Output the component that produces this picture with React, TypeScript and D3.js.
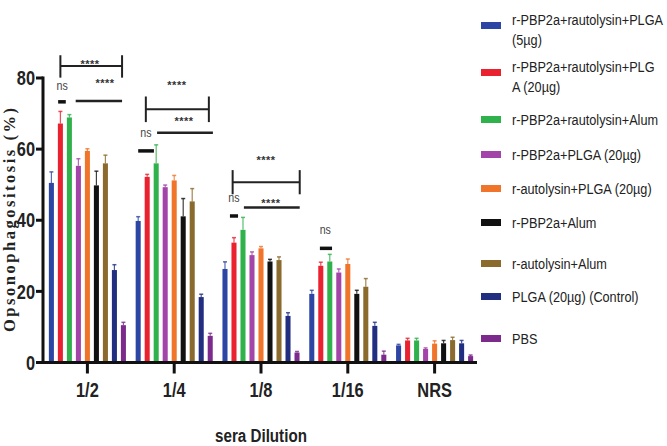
import * as d3 from "d3";
import type { ReactNode } from "react";

const groups = ["1/2", "1/4", "1/8", "1/16", "NRS"];

const seriesNames = [
  ["r-PBP2a+rautolysin+PLGA", "(5µg)"],
  ["r-PBP2a+rautolysin+PLG", "A (20µg)"],
  ["r-PBP2a+rautolysin+Alum"],
  ["r-PBP2a+PLGA (20µg)"],
  ["r-autolysin+PLGA (20µg)"],
  ["r-PBP2a+Alum"],
  ["r-autolysin+Alum"],
  ["PLGA (20µg) (Control)"],
  ["PBS"],
];

const colors = [
  "#2d45a3",
  "#ea2230",
  "#2fb24b",
  "#a344a8",
  "#f0742a",
  "#111111",
  "#8b6a2d",
  "#222f80",
  "#7c2b8c",
];

// mean values per group (rows = groups, cols = series)
const means = [
  [50.5, 67.2, 68.9, 55.3, 59.5, 49.8, 56, 26, 10.5],
  [39.8, 52.2, 56, 49.3, 51.2, 41.1, 45.3, 18.4, 7.5],
  [26.3, 33.7, 37.3, 30.2, 32.1, 28.4, 28.8, 13.1, 2.8],
  [19.3, 27.2, 28.4, 25.3, 27.7, 19.3, 21.3, 10.3, 2.2],
  [4.8, 6.2, 6.2, 3.8, 5.3, 5.4, 6.3, 5.4, 1.8],
];

const errors = [
  [3.1, 3.4, 0.8, 2, 0.6, 4, 2.3, 1.5, 0.8],
  [1.2, 0.7, 5.2, 0.6, 1.4, 5, 3.6, 0.8, 0.7],
  [2, 1.4, 3.5, 0.9, 0.5, 0.6, 0.9, 0.9, 0.3],
  [1, 1, 2, 1, 1.4, 1, 2.3, 1, 1],
  [0.3, 0.6, 0.6, 0.3, 0.8, 0.8, 0.8, 0.8, 0.3],
];

const yTicks = [0, 20, 40, 60, 80];

// significance marks: group, series index span, value level
const brackets = [
  { g: 0, i0: 1, i1: 7.85, v: 83.4, up: 3, down: 3.3 },
  { g: 1, i0: 0.85, i1: 7.85, v: 71.2, up: 3.6, down: 3.6 },
  { g: 2, i0: 0.85, i1: 8.3, v: 50.7, up: 3.4, down: 3.4 },
];
const stars = [
  { g: 0, i: 4.3, v: 84.6 },
  { g: 0, i: 5.95, v: 79.2 },
  { g: 1, i: 4.3, v: 78.6 },
  { g: 1, i: 5.1, v: 68.4 },
  { g: 2, i: 4.55, v: 57.5 },
  { g: 2, i: 5.1, v: 45.3 },
];
const nsLabels = [
  { g: 0, i: 1.2, v: 78 },
  { g: 1, i: 0.85, v: 64.8 },
  { g: 2, i: 1.0, v: 46.5 },
  { g: 3, i: 1.5, v: 37.4 },
];
const shortBars = [
  { g: 0, i0: 0.75, i1: 1.6, v: 73.3 },
  { g: 1, i0: 0, i1: 1.75, v: 59.5 },
  { g: 2, i0: 0.55, i1: 1.45, v: 41.2 },
  { g: 3, i0: 0.9, i1: 2.25, v: 32.1 },
];
const longLines = [
  { g: 0, i0: 2.7, i1: 7.85, v: 73.5 },
  { g: 1, i0: 2.1, i1: 8.3, v: 64.6 },
  { g: 2, i0: 2.1, i1: 8.3, v: 43.6 },
];

const W = 667;
const H = 446;
const sans = "'Liberation Sans', Arial, sans-serif";

// no narrow font installed, so squeeze Liberation Sans horizontally
function Narrow({
  x,
  y,
  anchor = "start",
  size,
  bold = false,
  fill = "#222",
  children,
}: {
  x: number;
  y: number;
  anchor?: "start" | "middle" | "end";
  size: number;
  bold?: boolean;
  fill?: string;
  children: ReactNode;
}) {
  return (
    <g transform={`translate(${x},${y}) scale(0.82,1)`}>
      <text
        dy="0.36em"
        textAnchor={anchor}
        fontFamily={sans}
        fontWeight={bold ? "bold" : "normal"}
        fontSize={size}
        fill={fill}
      >
        {children}
      </text>
    </g>
  );
}

export default function App() {
  const y = d3.scaleLinear([0, 80], [362.5, 78]);
  const x0 = d3.scaleBand(groups, [44, 478]);
  const idx = d3.range(seriesNames.length).map(String);
  const x1 = d3
    .scaleBand(idx, [0, x0.bandwidth()])
    .paddingInner(0.44)
    .paddingOuter(0.54);
  const bw = x1.bandwidth();
  const xAt = (g: number, i: number) =>
    (x0(groups[g]) ?? 0) + (x1("0") ?? 0) + bw / 2 + i * x1.step();

  const legendRows = [22, 69, 116, 151, 185, 219, 260, 293, 335];

  return (
    <svg
      width={W}
      height={H}
      viewBox={`0 0 ${W} ${H}`}
      style={{ position: "absolute", left: 0, top: 0, background: "#fff" }}
    >
      {/* bars */}
      {means.map((row, g) =>
        row.map((v, s) => {
          const xb = (x0(groups[g]) ?? 0) + (x1(String(s)) ?? 0);
          const cx = xb + bw / 2;
          const top = y(v + errors[g][s]);
          return (
            <g key={`${g}-${s}`}>
              <line x1={cx} x2={cx} y1={y(v)} y2={top} stroke={colors[s]} strokeWidth={1.2} opacity={0.8} />
              <line x1={cx - 2} x2={cx + 2} y1={top} y2={top} stroke={colors[s]} strokeWidth={1.5} opacity={0.8} />
              <rect x={xb} y={y(v)} width={bw} height={y(0) - y(v)} fill={colors[s]} />
            </g>
          );
        })
      )}

      {/* y axis */}
      <line x1={43} x2={43} y1={y(80) - 1.5} y2={y(0)} stroke="#111" strokeWidth={3} />
      {yTicks.map((t) => (
        <g key={t}>
          <line x1={36} x2={43} y1={y(t)} y2={y(t)} stroke="#111" strokeWidth={3} />
          <Narrow x={35} y={y(t)} anchor="end" size={20} bold>
            {t}
          </Narrow>
        </g>
      ))}

      {/* x axis */}
      <line x1={41.5} x2={477} y1={y(0)} y2={y(0)} stroke="#111" strokeWidth={3} />
      {groups.map((g) => {
        const cx = (x0(g) ?? 0) + x0.bandwidth() / 2;
        return (
          <g key={g}>
            <line x1={cx} x2={cx} y1={y(0)} y2={y(0) + 11} stroke="#111" strokeWidth={3} />
            <Narrow x={cx} y={390} anchor="middle" size={20} bold>
              {g}
            </Narrow>
          </g>
        );
      })}

      {/* axis titles */}
      <Narrow x={261} y={435} anchor="middle" size={18.5} bold>
        sera Dilution
      </Narrow>
      <text
        transform="translate(15,220) rotate(-90)"
        textAnchor="middle"
        fontFamily="'Liberation Serif', 'Times New Roman', serif"
        fontWeight="bold"
        fontSize={16.5}
        textLength={224}
        lengthAdjust="spacing"
        fill="#222"
      >
        Opsonophagositosis (%)
      </text>

      {/* significance */}
      {brackets.map((b, k) => (
        <g key={`b${k}`} stroke="#222" strokeWidth={2}>
          <line x1={xAt(b.g, b.i0)} x2={xAt(b.g, b.i1)} y1={y(b.v)} y2={y(b.v)} />
          <line x1={xAt(b.g, b.i0)} x2={xAt(b.g, b.i0)} y1={y(b.v + b.up)} y2={y(b.v - b.down)} />
          <line x1={xAt(b.g, b.i1)} x2={xAt(b.g, b.i1)} y1={y(b.v + b.up)} y2={y(b.v - b.down)} />
        </g>
      ))}
      {longLines.map((l, k) => (
        <line key={`l${k}`} x1={xAt(l.g, l.i0)} x2={xAt(l.g, l.i1)} y1={y(l.v)} y2={y(l.v)} stroke="#222" strokeWidth={2.5} />
      ))}
      {shortBars.map((l, k) => (
        <line key={`s${k}`} x1={xAt(l.g, l.i0)} x2={xAt(l.g, l.i1)} y1={y(l.v)} y2={y(l.v)} stroke="#111" strokeWidth={3.5} />
      ))}
      {stars.map((s, k) => (
        <text
          key={`st${k}`}
          x={xAt(s.g, s.i)}
          y={y(s.v)}
          dy="0.55em"
          textAnchor="middle"
          fontFamily={sans}
          fontWeight="bold"
          fontSize={11}
          letterSpacing={0.5}
          fill="#333"
        >
          ****
        </text>
      ))}
      {nsLabels.map((s, k) => (
        <Narrow key={`ns${k}`} x={xAt(s.g, s.i)} y={y(s.v)} anchor="middle" size={13} fill="#444">
          ns
        </Narrow>
      ))}

      {/* legend */}
      {seriesNames.map((lines, s) => (
        <g key={`lg${s}`}>
          <rect x={481} y={legendRows[s]} width={20} height={7} fill={colors[s]} />
          {lines.map((t, j) => (
            <Narrow
              key={j}
              x={512}
              y={legendRows[s] + 3.5 + (lines.length > 1 ? (j === 0 ? -6.5 : 13.5) : 0)}
              size={15.5}
            >
              {t}
            </Narrow>
          ))}
        </g>
      ))}
    </svg>
  );
}
